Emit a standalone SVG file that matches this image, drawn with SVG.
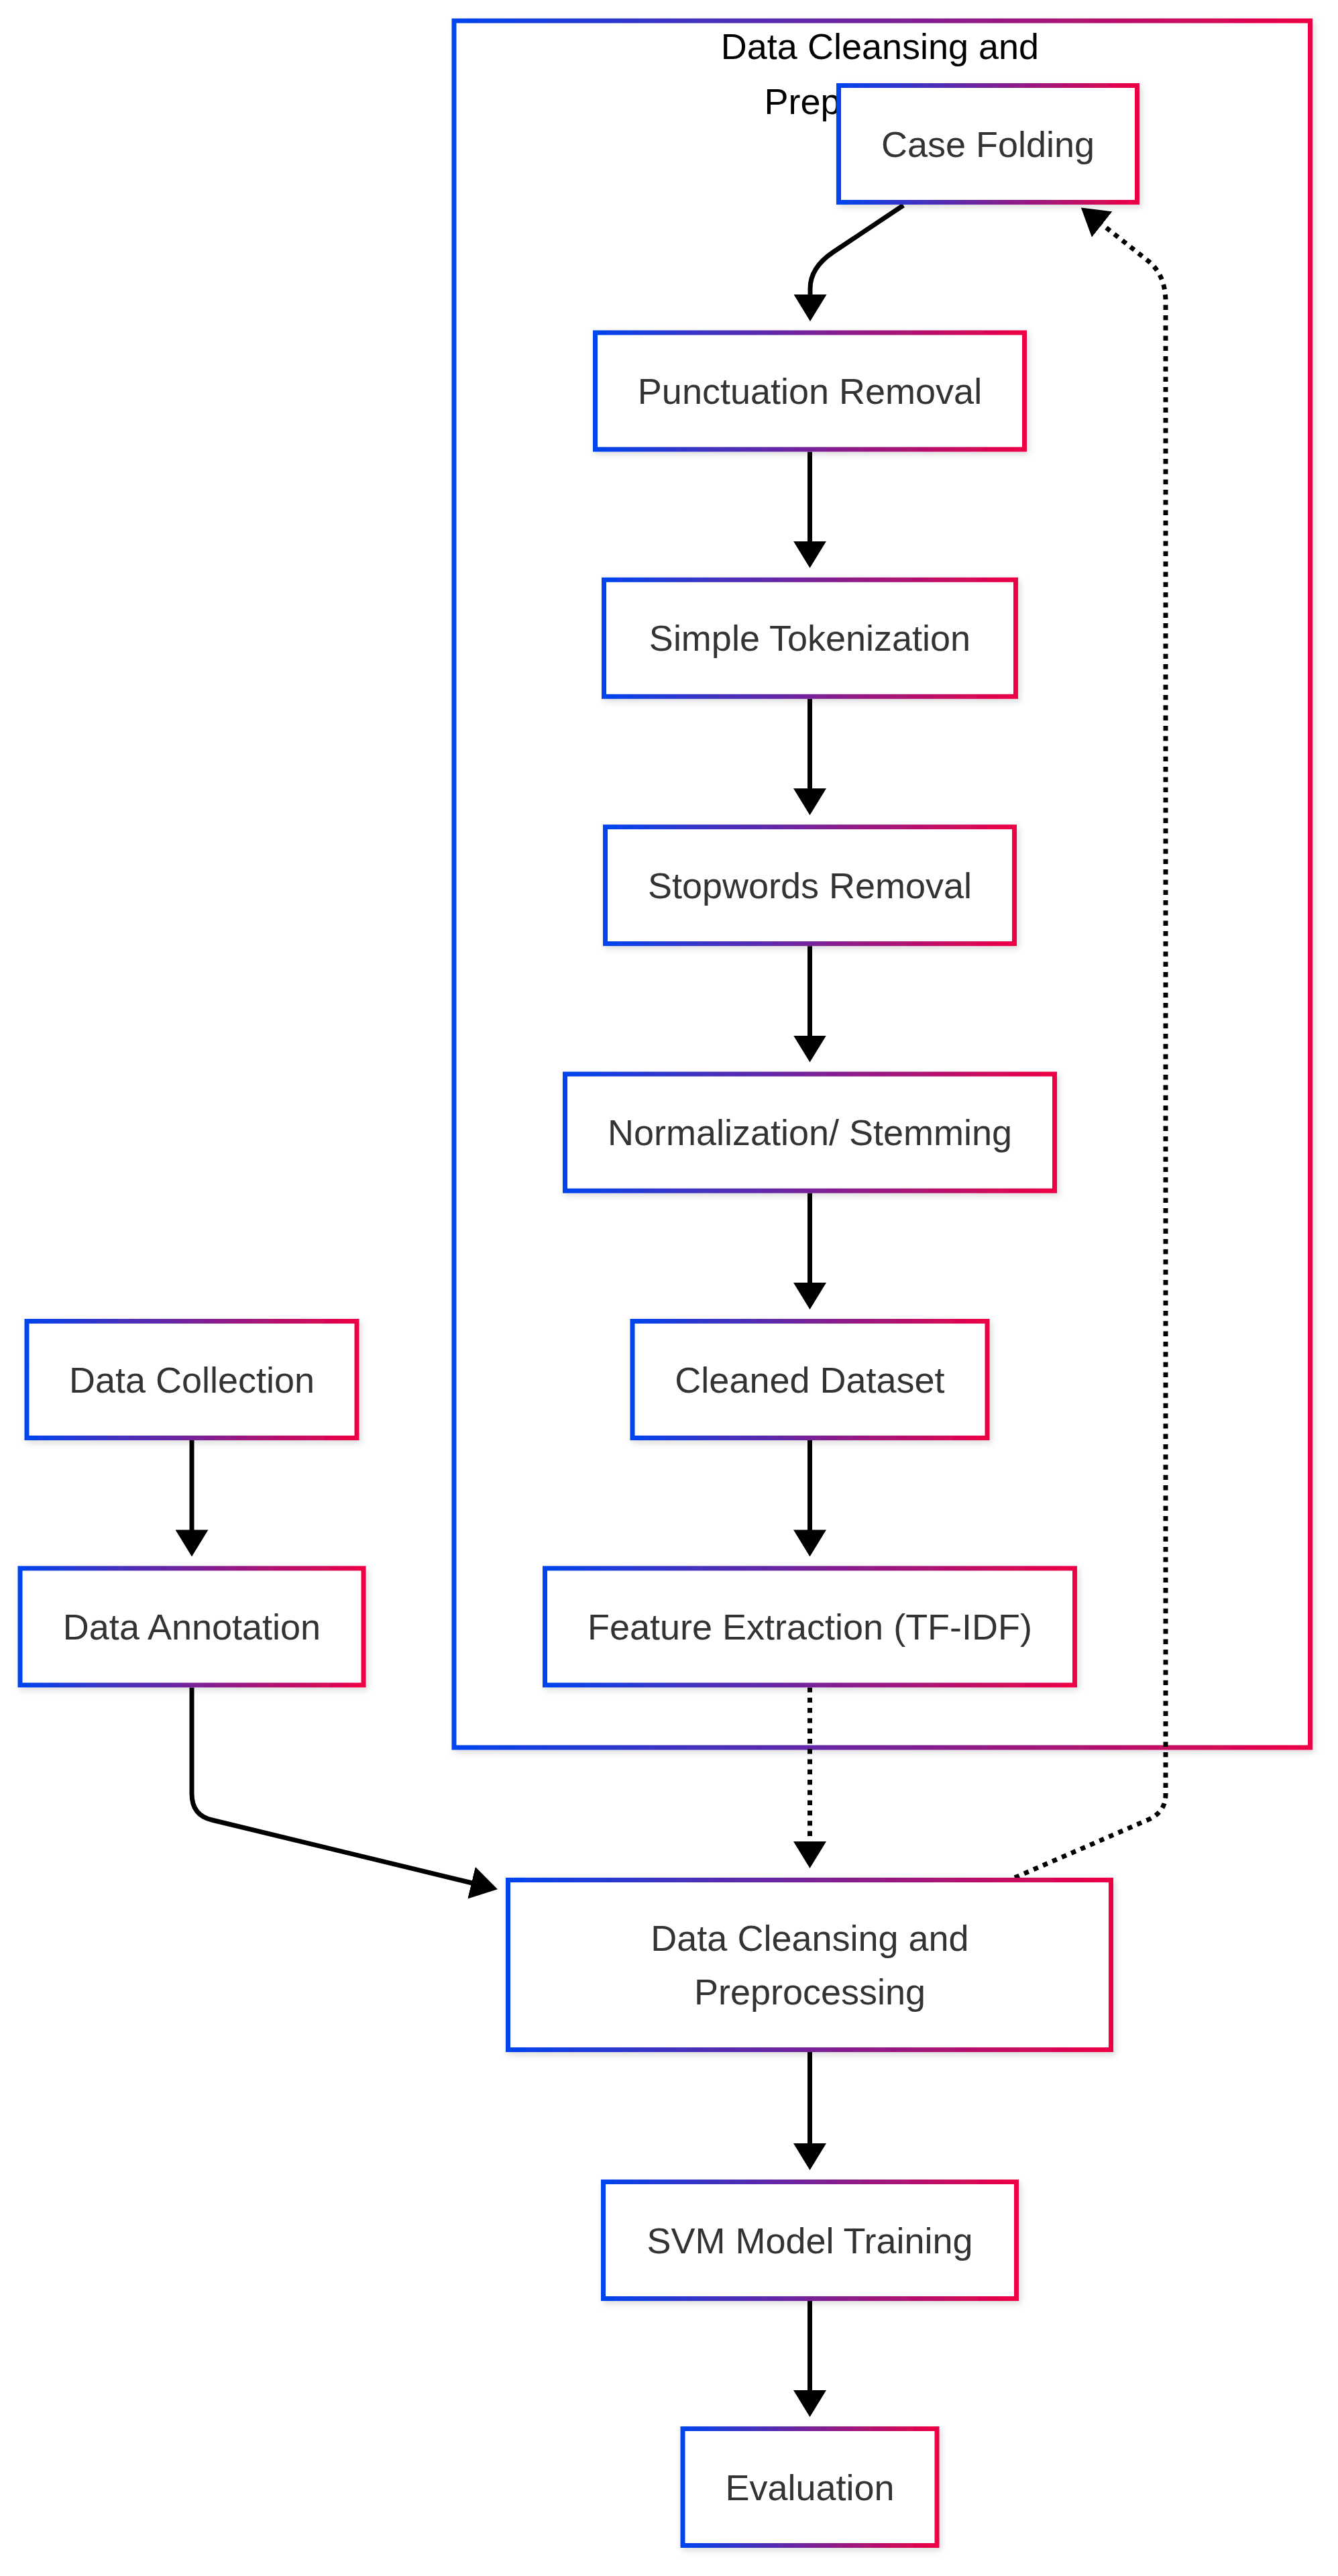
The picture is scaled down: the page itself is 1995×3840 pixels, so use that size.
<svg xmlns="http://www.w3.org/2000/svg" width="1995" height="3840" viewBox="0 0 1995 3840">
<defs>
<linearGradient id="grad" x1="0" y1="0" x2="1" y2="0">
<stop offset="0" stop-color="#0044EE"/>
<stop offset="1" stop-color="#EE0044"/>
</linearGradient>
<filter id="sh" x="-10%" y="-10%" width="125%" height="130%">
<feDropShadow dx="3" dy="4" stdDeviation="5" flood-color="#000" flood-opacity="0.14"/>
</filter>
<marker id="ah" markerUnits="userSpaceOnUse" viewBox="0 0 40 49" refX="1" refY="24.5" markerWidth="40" markerHeight="49" orient="auto">
<path d="M0,0 L40,24.5 L0,49 z" fill="#000"/>
</marker>
<style>
.box{fill:#fff;stroke:url(#grad);stroke-width:7;filter:url(#sh);}
.lbl{font-family:"Liberation Sans",Arial,sans-serif;font-size:54px;fill:#333;text-anchor:middle;}
.title{font-family:"Liberation Sans",Arial,sans-serif;font-size:54px;fill:#000;text-anchor:middle;}
.edge{fill:none;stroke:#000;stroke-width:7;marker-end:url(#ah);}
.dot{stroke-dasharray:7.3 8;}
</style>
</defs>
<rect width="1995" height="3840" fill="#fff"/>

<g id="cluster-preprocessing">
<rect class="box" x="677" y="31" width="1276.5" height="2574"/>
<text class="title" x="1312" y="88">Data Cleansing and</text>
<text class="title" x="1312" y="170">Preprocessing</text>
</g>

<g id="connectors">
<path class="edge" d="M1347,306 L1242,376 Q1208,399 1208,430 L1208,440"/>
<path class="edge" d="M1207.5,673.4 L1207.5,807.8"/>
<path class="edge" d="M1207.5,1041.8 L1207.5,1176.2"/>
<path class="edge" d="M1207.5,1410.2 L1207.5,1544.6"/>
<path class="edge" d="M1207.5,1778.6 L1207.5,1913"/>
<path class="edge" d="M1207.5,2147 L1207.5,2281.4"/>
<path class="edge dot" d="M1207.5,2515.4 L1207.5,2746"/>
<path class="edge" d="M286,2147 L286,2281.4"/>
<path class="edge" d="M286,2515.4 L286,2674 Q286,2706 316,2713 L704,2807"/>
<path class="edge dot" d="M1513,2799 L1712,2712.6 Q1738,2701 1738,2675 L1738,450 Q1738,410 1712,389 L1642.4,333.8"/>
<path class="edge" d="M1207.5,3059 L1207.5,3196"/>
<path class="edge" d="M1207.5,3430 L1207.5,3564"/>
</g>

<g id="node-case-folding">
<rect class="box" x="1250.5" y="127.5" width="445" height="174"/>
<text class="lbl" x="1473" y="233.5">Case Folding</text>
</g>
<g id="node-punctuation-removal">
<rect class="box" x="887.5" y="495.9" width="640" height="174"/>
<text class="lbl" x="1207.5" y="601.9">Punctuation Removal</text>
</g>
<g id="node-simple-tokenization">
<rect class="box" x="900.5" y="864.3" width="614" height="174"/>
<text class="lbl" x="1207.5" y="970.3">Simple Tokenization</text>
</g>
<g id="node-stopwords-removal">
<rect class="box" x="902.5" y="1232.7" width="610" height="174"/>
<text class="lbl" x="1207.5" y="1338.7">Stopwords Removal</text>
</g>
<g id="node-normalization">
<rect class="box" x="842.5" y="1601.1" width="730" height="174"/>
<text class="lbl" x="1207.5" y="1707.1">Normalization/ Stemming</text>
</g>
<g id="node-cleaned-dataset">
<rect class="box" x="943" y="1969.5" width="529" height="174"/>
<text class="lbl" x="1207.5" y="2075.5">Cleaned Dataset</text>
</g>
<g id="node-feature-extraction">
<rect class="box" x="812.5" y="2337.9" width="790" height="174"/>
<text class="lbl" x="1207.5" y="2443.9">Feature Extraction (TF-IDF)</text>
</g>
<g id="node-data-collection">
<rect class="box" x="40" y="1969.5" width="492" height="174"/>
<text class="lbl" x="286" y="2075.5">Data Collection</text>
</g>
<g id="node-data-annotation">
<rect class="box" x="30" y="2337.9" width="512" height="174"/>
<text class="lbl" x="286" y="2443.9">Data Annotation</text>
</g>
<g id="node-data-cleansing">
<rect class="box" x="757.5" y="2802.5" width="899" height="253"/>
<text class="lbl" x="1207.5" y="2908">Data Cleansing and</text>
<text class="lbl" x="1207.5" y="2988">Preprocessing</text>
</g>
<g id="node-svm-training">
<rect class="box" x="899.5" y="3252.5" width="616" height="174"/>
<text class="lbl" x="1207.5" y="3358.5">SVM Model Training</text>
</g>
<g id="node-evaluation">
<rect class="box" x="1018" y="3620.5" width="379" height="174"/>
<text class="lbl" x="1207.5" y="3726.5">Evaluation</text>
</g>
</svg>
